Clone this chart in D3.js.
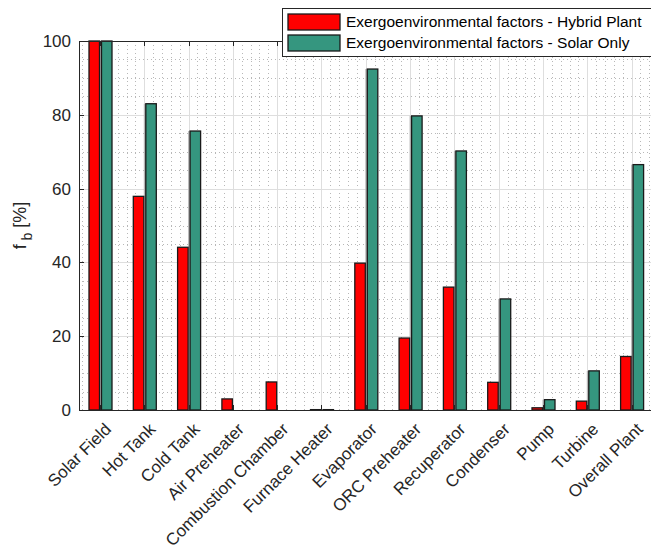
<!DOCTYPE html>
<html>
<head>
<meta charset="utf-8">
<script src="https://cdn.jsdelivr.net/npm/d3@7"></script>
<style>
  html, body { margin: 0; padding: 0; background: #fff; overflow: hidden; }
  svg { display: block; font-family: "Liberation Sans", Arial, Helvetica, sans-serif; }
</style>
</head>
<body>
<svg id="chart" width="651" height="553"></svg>
<script>
// Components of the plant
const categories = [
  "Solar Field", "Hot Tank", "Cold Tank", "Air Preheater", "Combustion Chamber",
  "Furnace Heater", "Evaporator", "ORC Preheater", "Recuperator", "Condenser",
  "Pump", "Turbine", "Overall Plant"
];
// Exergoenvironmental factor f_b [%], hybrid plant
const hybridValues = [100, 57.9, 44.1, 3.0, 7.6, 0.1, 39.8, 19.5, 33.3, 7.5, 0.6, 2.4, 14.5];
// Exergoenvironmental factor f_b [%], solar only
const solarValues = [100, 83.0, 75.6, 0.0, 0.0, 0.1, 92.4, 79.7, 70.2, 30.1, 2.8, 10.6, 66.5];
const seriesNames = [
  "Exergoenvironmental factors - Hybrid Plant",
  "Exergoenvironmental factors - Solar Only"
];
const yTicks = [0, 20, 40, 60, 80, 100];

(function () {
const colors = ["#ff0000", "#35967f"];
const edge = "#1a1a1a";
const axisColor = "#262626";

const svg = d3.select("#chart");

// plot frame (right side runs past the window edge)
const pLeft = 79, pTop = 41, pBottom = 410, pRight = 660;
const step = 44.3;
const firstCenter = 100;

const x = d3.scaleLinear()
  .domain([0, categories.length - 1])
  .range([firstCenter, firstCenter + step * (categories.length - 1)]);
const y = d3.scaleLinear().domain([0, 100]).range([pBottom, pTop]);

const grid = svg.append("g");
// minor grid, x every 0.2 category, y every 5
const xMinor = d3.range(-0.4, categories.length + 0.01, 0.2)
  .filter(v => Math.abs(v - Math.round(v)) > 0.05 && x(v) > pLeft && x(v) < pRight);
grid.selectAll("line.xminor").data(xMinor).join("line")
  .attr("x1", d => Math.round(x(d)) + 0.5).attr("x2", d => Math.round(x(d)) + 0.5)
  .attr("y1", pTop).attr("y2", pBottom)
  .attr("stroke", "#b8b8b8").attr("stroke-width", 1).attr("stroke-dasharray", "1,3");
const yMinor = d3.range(5, 100, 5).filter(v => v % 20 !== 0);
grid.selectAll("line.yminor").data(yMinor).join("line")
  .attr("x1", pLeft).attr("x2", pRight)
  .attr("y1", d => Math.round(y(d)) + 0.5).attr("y2", d => Math.round(y(d)) + 0.5)
  .attr("stroke", "#b8b8b8").attr("stroke-width", 1).attr("stroke-dasharray", "1,3");
// major grid
grid.selectAll("line.xmajor").data(categories.map((c, i) => i)).join("line")
  .attr("x1", d => Math.round(x(d)) + 0.5).attr("x2", d => Math.round(x(d)) + 0.5)
  .attr("y1", pTop).attr("y2", pBottom)
  .attr("stroke", "#dedede").attr("stroke-width", 1);
grid.selectAll("line.ymajor").data(yTicks.slice(1, -1)).join("line")
  .attr("x1", pLeft).attr("x2", pRight)
  .attr("y1", d => Math.round(y(d)) + 0.5).attr("y2", d => Math.round(y(d)) + 0.5)
  .attr("stroke", "#dedede").attr("stroke-width", 1);

// bars
const bars = svg.append("g");
const barW = 10.5;
const hybridOff = -11, solarOff = 1.5;
bars.selectAll("rect.shade").data(solarValues).join("rect")
  .attr("x", (d, i) => x(i) + solarOff - 2).attr("width", 2)
  .attr("y", d => y(d)).attr("height", d => y(0) - y(d))
  .attr("fill", "#b5b5b5");
bars.selectAll("rect.hybrid").data(hybridValues).join("rect")
  .attr("x", (d, i) => x(i) + hybridOff).attr("width", barW)
  .attr("y", d => y(d)).attr("height", d => y(0) - y(d))
  .attr("fill", colors[0]).attr("stroke", edge).attr("stroke-width", 1.3);
bars.selectAll("rect.solar").data(solarValues).join("rect")
  .attr("x", (d, i) => x(i) + solarOff).attr("width", barW)
  .attr("y", d => y(d)).attr("height", d => y(0) - y(d))
  .attr("fill", colors[1]).attr("stroke", edge).attr("stroke-width", 1.3);

// axes frame
svg.append("rect").attr("x", pLeft + 0.5).attr("y", pTop + 0.5)
  .attr("width", pRight - pLeft).attr("height", pBottom - pTop)
  .attr("fill", "none").attr("stroke", axisColor).attr("stroke-width", 1);

// tick marks (inward)
const tickLen = 5;
svg.append("g").selectAll("line").data(categories.map((c, i) => i)).join("line")
  .attr("x1", d => Math.round(x(d)) + 0.5).attr("x2", d => Math.round(x(d)) + 0.5)
  .attr("y1", pTop).attr("y2", pTop + tickLen)
  .attr("stroke", axisColor);
svg.append("g").selectAll("line").data(categories.map((c, i) => i)).join("line")
  .attr("x1", d => Math.round(x(d)) + 0.5).attr("x2", d => Math.round(x(d)) + 0.5)
  .attr("y1", pBottom).attr("y2", pBottom - tickLen)
  .attr("stroke", axisColor);
svg.append("g").selectAll("line").data(yTicks).join("line")
  .attr("x1", pLeft).attr("x2", pLeft + tickLen)
  .attr("y1", d => Math.round(y(d)) + 0.5).attr("y2", d => Math.round(y(d)) + 0.5)
  .attr("stroke", axisColor);

// y tick labels
svg.append("g").selectAll("text").data(yTicks).join("text")
  .attr("x", pLeft - 8).attr("y", d => y(d))
  .attr("dy", "0.35em").attr("text-anchor", "end")
  .attr("font-size", 17).attr("fill", axisColor)
  .text(d => d);

// x tick labels, rotated 45°
svg.append("g").selectAll("text").data(categories).join("text")
  .attr("transform", (d, i) => `translate(${x(i) + 8},${pBottom + 16}) rotate(-45)`)
  .attr("text-anchor", "end").attr("dy", "0.35em")
  .attr("font-size", 17).attr("fill", axisColor)
  .text(d => d);

// y axis title: f_b [%]
const yt = svg.append("text")
  .attr("transform", `translate(26,${(pTop + pBottom) / 2}) rotate(-90)`)
  .attr("text-anchor", "middle").attr("font-size", 18).attr("fill", axisColor);
yt.append("tspan").text("f");
yt.append("tspan").attr("font-size", 14).attr("dy", 6).text(" b");
yt.append("tspan").attr("dy", -6).text("  [%]");

// legend
const lg = svg.append("g");
lg.append("rect").attr("x", 282.5).attr("y", 8.5).attr("width", 400).attr("height", 48)
  .attr("fill", "#fff").attr("stroke", axisColor).attr("stroke-width", 1);
seriesNames.forEach((name, i) => {
  const yy = 14 + i * 21;
  lg.append("rect").attr("x", 288).attr("y", yy).attr("width", 52).attr("height", 16)
    .attr("fill", colors[i]).attr("stroke", edge).attr("stroke-width", 1.3);
  lg.append("text").attr("x", 346).attr("y", yy + 8).attr("dy", "0.35em")
    .attr("font-size", 15.5).attr("fill", "#000").text(name);
});
})();
</script>
</body>
</html>
